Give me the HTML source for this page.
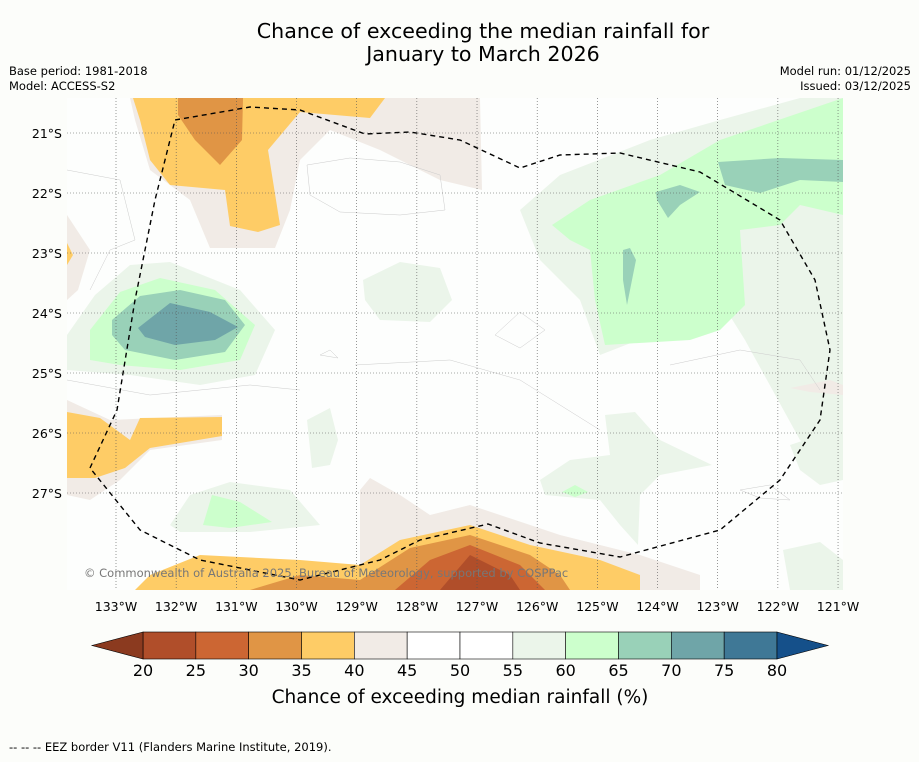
<!DOCTYPE html>
<html><head><meta charset="utf-8"><style>
body{margin:0;background:#fcfdfa;font-family:"DejaVu Sans","Liberation Sans",sans-serif}
svg text{font-family:"DejaVu Sans","Liberation Sans",sans-serif}
</style></head><body>
<svg width="919" height="758" viewBox="0 0 919 758">
<rect width="919" height="758" fill="#fcfdfa"/>
<text x="483" y="38" text-anchor="middle" font-size="20.6">Chance of exceeding the median rainfall for</text>
<text x="483" y="61" text-anchor="middle" font-size="20.6">January to March 2026</text>
<text x="9" y="75" font-size="11.5">Base period: 1981-2018</text>
<text x="9" y="90" font-size="11.5">Model: ACCESS-S2</text>
<text x="911" y="75" font-size="11.5" text-anchor="end">Model run: 01/12/2025</text>
<text x="911" y="90" font-size="11.5" text-anchor="end">Issued: 03/12/2025</text>
<defs><clipPath id="mc"><rect x="67" y="98" width="776" height="492"/></clipPath></defs>
<g clip-path="url(#mc)">
<rect x="67" y="98" width="776" height="492" fill="#fdfefd"/>
<path d="M130,98 L480,98 L482,190 L440,180 L380,150 L330,130 L300,160 L290,210 L275,248 L210,248 L190,200 L150,170 L135,120Z" fill="#f1ebe6"/>
<path d="M133,98 L385,98 L370,118 L300,112 L268,150 L280,225 L258,232 L230,226 L225,190 L170,185 L150,160 L140,120Z" fill="#fecc66"/>
<path d="M178,98 L243,98 L242,140 L220,165 L195,140 L178,115Z" fill="#e09545"/>
<path d="M67,215 L90,250 L78,290 L67,300Z" fill="#f1ebe6"/>
<path d="M67,243 L73,255 L67,265Z" fill="#fecc66"/>
<path d="M67,400 L110,420 L222,415 L222,440 L150,450 L120,480 L90,500 L67,495Z" fill="#f1ebe6"/>
<path d="M67,412 L100,418 L130,440 L140,418 L222,417 L222,436 L150,448 L125,468 L95,478 L67,478Z" fill="#fecc66"/>
<path d="M360,490 L370,478 L400,495 L430,515 L470,505 L560,535 L640,555 L700,575 L700,590 L360,590 Z" fill="#f1ebe6"/>
<path d="M135,590 L150,575 L200,555 L300,560 L360,565 L400,540 L470,525 L530,545 L600,560 L640,575 L640,590Z" fill="#fecc66"/>
<path d="M250,590 L300,575 L360,580 L410,548 L470,535 L530,555 L560,575 L570,590Z" fill="#e09545"/>
<path d="M395,590 L430,560 L470,545 L520,565 L545,590Z" fill="#cc6633"/>
<path d="M440,590 L470,555 L510,575 L520,590Z" fill="#b04e2a"/>
<path d="M520,210 L560,175 L650,140 L720,120 L800,98 L843,98 L843,480 L800,440 L745,340 L720,300 L690,320 L600,355 L580,300 L540,260Z" fill="#ebf5ea"/>
<path d="M552,225 L590,200 L660,175 L720,140 L843,98 L843,215 L800,205 L780,225 L740,230 L745,305 L720,330 L690,340 L605,345 L595,300 L590,250 L570,240Z" fill="#ccffcc"/>
<path d="M718,162 L780,158 L843,160 L843,182 L800,180 L760,193 L725,185Z" fill="#99d1b8"/>
<path d="M656,192 L680,185 L700,192 L680,205 L668,218 L657,200Z" fill="#99d1b8"/>
<path d="M623,250 L630,248 L636,260 L630,290 L627,305 L623,280Z" fill="#99d1b8"/>
<path d="M67,335 L95,295 L130,265 L170,262 L240,290 L275,330 L255,375 L200,385 L130,375 L67,370Z" fill="#ebf5ea"/>
<path d="M90,330 L120,292 L160,278 L215,290 L255,325 L240,360 L180,370 L120,365 L90,360Z" fill="#ccffcc"/>
<path d="M112,320 L140,296 L180,290 L225,300 L245,325 L225,352 L175,360 L125,350 L112,335Z" fill="#99d1b8"/>
<path d="M138,328 L170,303 L210,312 L238,327 L215,340 L175,345 L145,337Z" fill="#6fa5a8"/>
<path d="M363,280 L400,262 L440,268 L452,300 L430,322 L380,320 L365,300Z" fill="#ebf5ea"/>
<path d="M307,420 L330,408 L338,440 L330,465 L312,468Z" fill="#ebf5ea"/>
<path d="M170,525 L190,495 L230,482 L290,490 L320,525 L250,532 L180,532Z" fill="#ebf5ea"/>
<path d="M203,525 L212,495 L240,502 L272,522 L230,528Z" fill="#ccffcc"/>
<path d="M540,480 L570,460 L610,455 L605,415 L635,412 L660,440 L712,465 L660,475 L640,495 L638,545 L620,525 L600,500 L545,495Z" fill="#ebf5ea"/>
<path d="M562,492 L575,485 L588,492 L575,497Z" fill="#ccffcc"/>
<path d="M783,550 L820,542 L843,560 L843,590 L790,590Z" fill="#ebf5ea"/>
<path d="M790,445 L820,435 L843,440 L843,480 L820,485 L800,470Z" fill="#ebf5ea"/>
<path d="M790,388 L830,380 L843,385 L843,395 L810,392Z" fill="#f1ebe6"/>
<g fill="none" stroke="#ccc" stroke-width="0.5">
<path d="M307,165 L350,158 L400,162 L440,175 L445,210 L400,215 L340,212 L310,195Z"/>
<path d="M67,170 L120,180 L135,240 L110,250 L90,290"/>
<path d="M355,365 L450,360 L520,380 L560,405 L600,430"/>
<path d="M670,365 L740,350 L800,360 L820,390"/>
<path d="M495,335 L520,312 L545,330 L520,348Z"/>
<path d="M67,380 L150,395 L250,385 L300,390"/>
<path d="M740,490 L770,485 L790,500 L760,498Z"/>
<path d="M320,355 L330,350 L338,358Z"/>
</g>
</g>
<g id="grid" stroke="#555" stroke-width="0.6" stroke-dasharray="1,2"></g>
<path d="M90,468 L117,410 L135,300 L155,200 L175,120 L250,107 L300,110 L365,134 L410,132 L460,140 L520,168 L560,155 L620,153 L700,172 L780,220 L815,280 L830,350 L820,420 L780,480 L720,530 L620,557 L540,543 L488,524 L420,540 L380,560 L300,580 L200,560 L140,530 Z" fill="none" stroke="#000" stroke-width="1.4" stroke-dasharray="5,4"/>
<text x="84" y="577" font-size="11.5" fill="#777">© Commonwealth of Australia 2025, Bureau of Meteorology, supported by COSPPac</text>
<g id="axes"></g>
<g id="cbar"></g>
<text x="460" y="703" text-anchor="middle" font-size="18.5">Chance of exceeding median rainfall (%)</text>
<text x="9" y="751" font-size="11.5">--  --  -- EEZ border V11 (Flanders Marine Institute, 2019).</text>
</svg>
<script>
const lonTicks=[133,132,131,130,129,128,127,126,125,124,123,122,121];
const latTicks=[21,22,23,24,25,26,27];
const cbLevels=[20,25,30,35,40,45,50,55,60,65,70,75,80];
const cbColors=["#b04e2a","#cc6633","#e09545","#fecc66","#f1ebe6","#ffffff","#ffffff","#ebf5ea","#ccffcc","#99d1b8","#6fa5a8","#3f7896"];
const NS="http://www.w3.org/2000/svg";
function xLon(l){return 116+(133-l)*60.17;}
function yLat(l){return 133+(l-21)*60;}
function mk(t,a,p){const e=document.createElementNS(NS,t);for(const k in a)e.setAttribute(k,a[k]);p.appendChild(e);return e;}
const grid=document.getElementById('grid'),axes=document.getElementById('axes'),cb=document.getElementById('cbar');
lonTicks.forEach(l=>{const x=xLon(l);
 const ln=mk('line',{x1:x,x2:x,y1:98,y2:590},grid);
 
 
 const t=mk('text',{x:x,y:611,'text-anchor':'middle','font-size':12.5},axes);t.textContent=l+'°W';
 
 });
latTicks.forEach(l=>{const y=yLat(l);
 const ln=mk('line',{x1:67,x2:843,y1:y,y2:y},grid);
 
 
 const t=mk('text',{x:62,y:y+5,'text-anchor':'end','font-size':12.5},axes);t.textContent=l+'°S';
 
 });
const cx0=143,cx1=777,cy=632,ch=27,w=(cx1-cx0)/cbColors.length;
cbColors.forEach((c,i)=>{const r=mk('rect',{x:cx0+i*w,y:cy,width:w,height:ch,fill:c,stroke:'#000','stroke-width':0.6},cb);
 
 });
const tl=mk('polygon',{points:`${cx0},${cy} 92,${cy+ch/2} ${cx0},${cy+ch}`,fill:'#8b3a1f',stroke:'#000','stroke-width':0.6},cb);


const tr=mk('polygon',{points:`${cx1},${cy} 828,${cy+ch/2} ${cx1},${cy+ch}`,fill:'#15508a',stroke:'#000','stroke-width':0.6},cb);


cbLevels.forEach((v,i)=>{const t=mk('text',{x:cx0+i*w,y:676,'text-anchor':'middle','font-size':16},cb);t.textContent=v;
 
 });
</script>
</body></html>
